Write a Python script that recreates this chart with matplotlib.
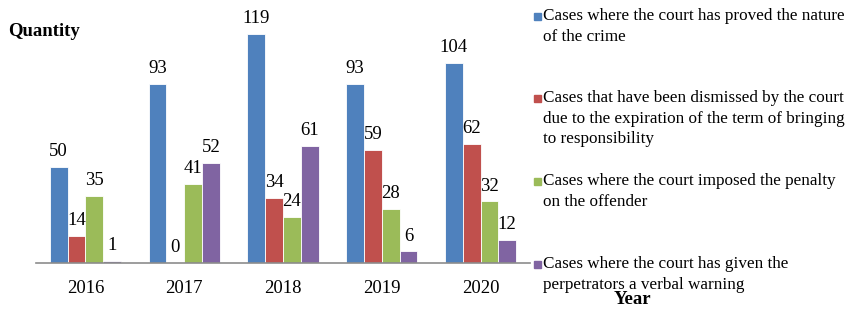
import numpy as np
import matplotlib
matplotlib.use('Agg')
import matplotlib.pyplot as plt
from matplotlib.patches import Rectangle

# --- Data ---
years = ['2016', '2017', '2018', '2019', '2020']
proved = [50, 93, 119, 93, 104]
dismissed = [14, 0, 34, 59, 62]
penalty = [35, 41, 24, 28, 32]
warning = [1, 52, 61, 6, 12]

series_labels = [
    'Cases where the court has proved the nature\nof the crime',
    'Cases that have been dismissed by the court\ndue to the expiration of the term of bringing\nto responsibility',
    'Cases where the court imposed the penalty\non the offender',
    'Cases where the court has given the\nperpetrators a verbal warning',
]
colors = ['#4F81BD', '#C0504D', '#9BBB59', '#8064A2']

plt.rcParams['font.family'] = ['Liberation Serif', 'DejaVu Serif']

W, H = 854, 311
fig = plt.figure(figsize=(W / 100, H / 100), dpi=100)
ax = fig.add_axes([36 / W, 1 - 263 / H, (530 - 36) / W, 250 / H])

x = np.arange(len(years))
width = 0.18
all_series = [proved, dismissed, penalty, warning]
for i, (vals, col) in enumerate(zip(all_series, colors)):
    pos = x + (i - 1.5) * width
    ax.bar(pos, vals, width, color=col, edgecolor='white', linewidth=0.6, zorder=2)
    for px, v in zip(pos, vals):
        ax.annotate(str(v), (px, v), xytext=(0, 5), textcoords='offset points',
                    ha='center', va='bottom', fontsize=13.5)

ax.set_xlim(-0.5, 4.5)
ax.set_ylim(0, 130)
ax.set_xticks(x)
ax.set_xticklabels(years, fontsize=13.5)
ax.tick_params(axis='x', length=0, pad=12)
ax.set_yticks([])
for s in ['top', 'right', 'left']:
    ax.spines[s].set_visible(False)
ax.spines['bottom'].set_color('#8c8c8c')
ax.spines['bottom'].set_linewidth(1.2)

# axis titles
fig.text(8 / W, 1 - 31 / H, 'Quantity', fontsize=13.5, fontweight='bold', va='center', ha='left')
fig.text(632 / W, 1 - 300 / H, 'Year', fontsize=13.5, fontweight='bold', va='center', ha='center')

# legend, drawn by hand to keep the uneven spacing
item_y = [16, 98, 181, 264]
for lab, col, yy in zip(series_labels, colors, item_y):
    fig.add_artist(Rectangle((534 / W, 1 - (yy + 3.5) / H), 7 / W, 7 / H,
                             transform=fig.transFigure, color=col))
    fig.text(543 / W, 1 - (yy - 8) / H, lab, fontsize=12.3, va='top', ha='left',
             linespacing=1.38)

fig.savefig('out.png', dpi=100)
